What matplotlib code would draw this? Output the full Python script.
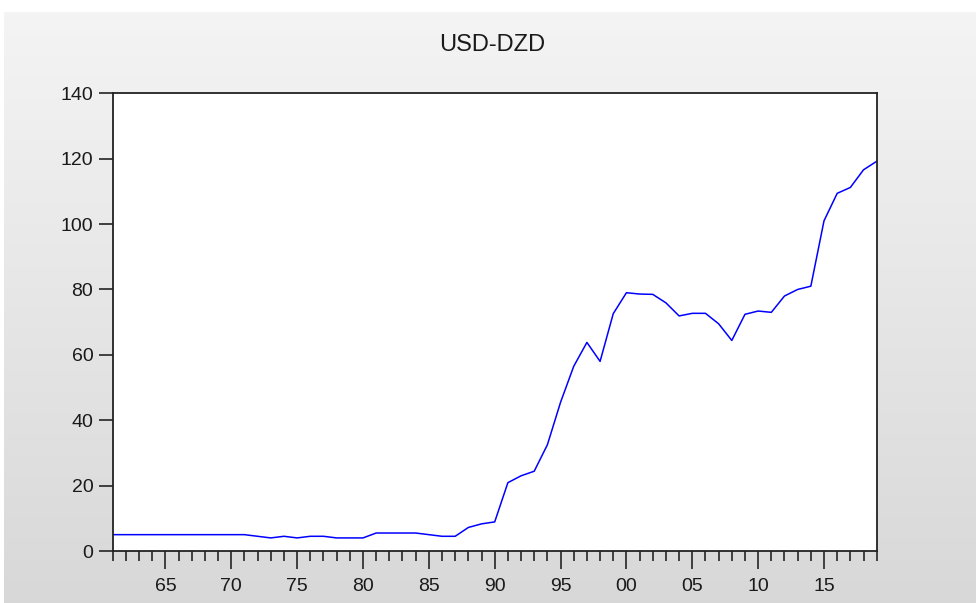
import numpy as np
import matplotlib
matplotlib.use("Agg")
import matplotlib.pyplot as plt

plt.rcParams['font.family'] = ['Liberation Sans', 'DejaVu Sans']

title = "USD-DZD"
years = list(range(1961, 2020))
values = [5.0] * 11 + [
    4.5, 4.0, 4.5, 4.0, 4.5, 4.5, 4.0, 4.0, 4.0,          # 1972-1980
    5.5, 5.5, 5.5, 5.5, 5.0, 4.5, 4.5, 7.2, 8.3, 8.9,     # 1981-1990
    20.9, 23.0, 24.4, 32.5, 45.5, 56.5, 63.8, 58.0, 72.6, 79.0,  # 1991-2000
    78.6, 78.5, 75.9, 71.9, 72.7, 72.7, 69.5, 64.4, 72.4, 73.4,  # 2001-2010
    73.0, 78.0, 80.0, 81.0, 101.0, 109.4, 111.2, 116.6, 119.2,   # 2011-2019
]
x_major = [1965, 1970, 1975, 1980, 1985, 1990, 1995, 2000, 2005, 2010, 2015]
x_labels = ["65", "70", "75", "80", "85", "90", "95", "00", "05", "10", "15"]
y_ticks = [0, 20, 40, 60, 80, 100, 120, 140]

W, H = 976, 603
fig = plt.figure(figsize=(W / 100, H / 100), dpi=100)
fig.patch.set_facecolor('white')

# gradient background panel
bg = fig.add_axes([4 / W, 0, 1 - 4 / W, 1 - 12 / H], zorder=0)
grad = np.linspace(0.957, 0.847, 256).reshape(-1, 1)
bg.imshow(np.dstack([grad, grad, grad]), aspect='auto', extent=[0, 1, 0, 1])
bg.set_axis_off()

left, right = 112.7 / W, 876.7 / W
top, bottom = 1 - 93.3 / H, 1 - 551 / H
ax = fig.add_axes([left, bottom, right - left, top - bottom], zorder=1)
ax.set_facecolor('white')
ax.plot(years, values, color='#0000ff', lw=1.1)

ax.set_xlim(1961, 2019)
ax.set_ylim(0, 140)
ax.set_yticks(y_ticks)
ax.set_xticks(x_major)
ax.set_xticklabels(x_labels)
ax.set_xticks(years, minor=True)

for s in ax.spines.values():
    s.set_color('#222222')
    s.set_linewidth(1.3)

ax.tick_params(axis='y', which='major', direction='out', length=10, width=1.3,
               color='#333333', labelsize=14, pad=4, labelcolor='#1a1a1a')
ax.tick_params(axis='x', which='major', direction='out', length=12.7, width=1.3,
               color='#333333', labelsize=14, pad=7, labelcolor='#1a1a1a')
ax.tick_params(axis='x', which='minor', direction='out', length=7, width=1.3,
               color='#333333')

fig.text(492 / W, 1 - 45 / H, title, ha='center', va='center', fontsize=17,
         color='#1a1a1a')

fig.savefig('out.png', dpi=100, facecolor=fig.get_facecolor())
